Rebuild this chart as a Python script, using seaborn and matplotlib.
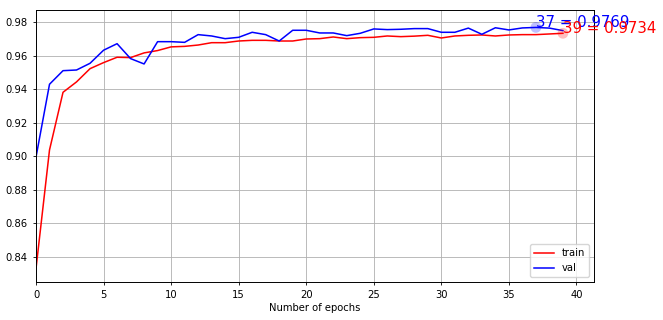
import numpy as np
import pandas as pd
import matplotlib
matplotlib.use("Agg")
import matplotlib.pyplot as plt
import seaborn as sns

epochs = list(range(40))
train_acc = [0.8330, 0.9038, 0.9382, 0.9444, 0.9523, 0.9559, 0.9591, 0.9589, 0.9617, 0.9631,
             0.9653, 0.9656, 0.9664, 0.9678, 0.9678, 0.9688, 0.9692, 0.9692, 0.9688, 0.9688,
             0.9700, 0.9702, 0.9712, 0.9702, 0.9708, 0.9710, 0.9718, 0.9714, 0.9717, 0.9722,
             0.9706, 0.9718, 0.9722, 0.9724, 0.9718, 0.9724, 0.9726, 0.9726, 0.9730, 0.9734]
val_acc = [0.8995, 0.9430, 0.9511, 0.9515, 0.9555, 0.9633, 0.9672, 0.9583, 0.9551, 0.9684,
           0.9684, 0.9680, 0.9726, 0.9718, 0.9702, 0.9710, 0.9740, 0.9726, 0.9688, 0.9752,
           0.9752, 0.9736, 0.9736, 0.9720, 0.9734, 0.9760, 0.9756, 0.9758, 0.9762, 0.9762,
           0.9740, 0.9740, 0.9765, 0.9728, 0.9767, 0.9754, 0.9766, 0.9769, 0.9765, 0.9750]
series_names = ["train", "val"]
series_colors = {"train": "red", "val": "blue"}

df = pd.DataFrame({
    "epoch": epochs * 2,
    "acc": train_acc + val_acc,
    "set": ["train"] * len(epochs) + ["val"] * len(epochs),
})

plt.rcParams["font.family"] = ["DejaVu Sans"]
plt.rcParams["font.size"] = 7.2

fig = plt.figure(figsize=(6.63, 3.2), dpi=100)
ax = fig.add_axes([36 / 663, 38 / 320, 558 / 663, 272 / 320])

sns.lineplot(data=df, x="epoch", y="acc", hue="set", hue_order=series_names,
             palette=series_colors, linewidth=1.1, ax=ax)

# annotate maxima
for name, vals in (("val", val_acc), ("train", train_acc)):
    i = int(np.argmax(vals))
    ax.scatter([epochs[i]], [vals[i]], s=60, color=series_colors[name], alpha=0.25,
               edgecolors="none", zorder=3)
    ax.text(epochs[i], vals[i], f"{epochs[i]} = {vals[i]:.4f}",
            color=series_colors[name], fontsize=10.8)

ax.set_xlim(0, 41.3)
ax.set_ylim(0.825, 0.9873)
ax.set_xticks([0, 5, 10, 15, 20, 25, 30, 35, 40])
ax.set_yticks([0.84, 0.86, 0.88, 0.90, 0.92, 0.94, 0.96, 0.98])
ax.yaxis.set_major_formatter(matplotlib.ticker.FormatStrFormatter("%.2f"))
ax.grid(True, color="#b0b0b0", linewidth=0.6)
ax.set_axisbelow(True)
ax.tick_params(labelsize=7.2, length=2.5, width=0.6)
for s in ax.spines.values():
    s.set_linewidth(0.7)
ax.set_xlabel("Number of epochs", fontsize=7.2, labelpad=2)
ax.set_ylabel("")

handles, labels = ax.get_legend_handles_labels()
ax.legend(handles[:2], labels[:2], loc="lower right", fontsize=7.2, framealpha=0.8)

fig.savefig("out.png", dpi=100)
